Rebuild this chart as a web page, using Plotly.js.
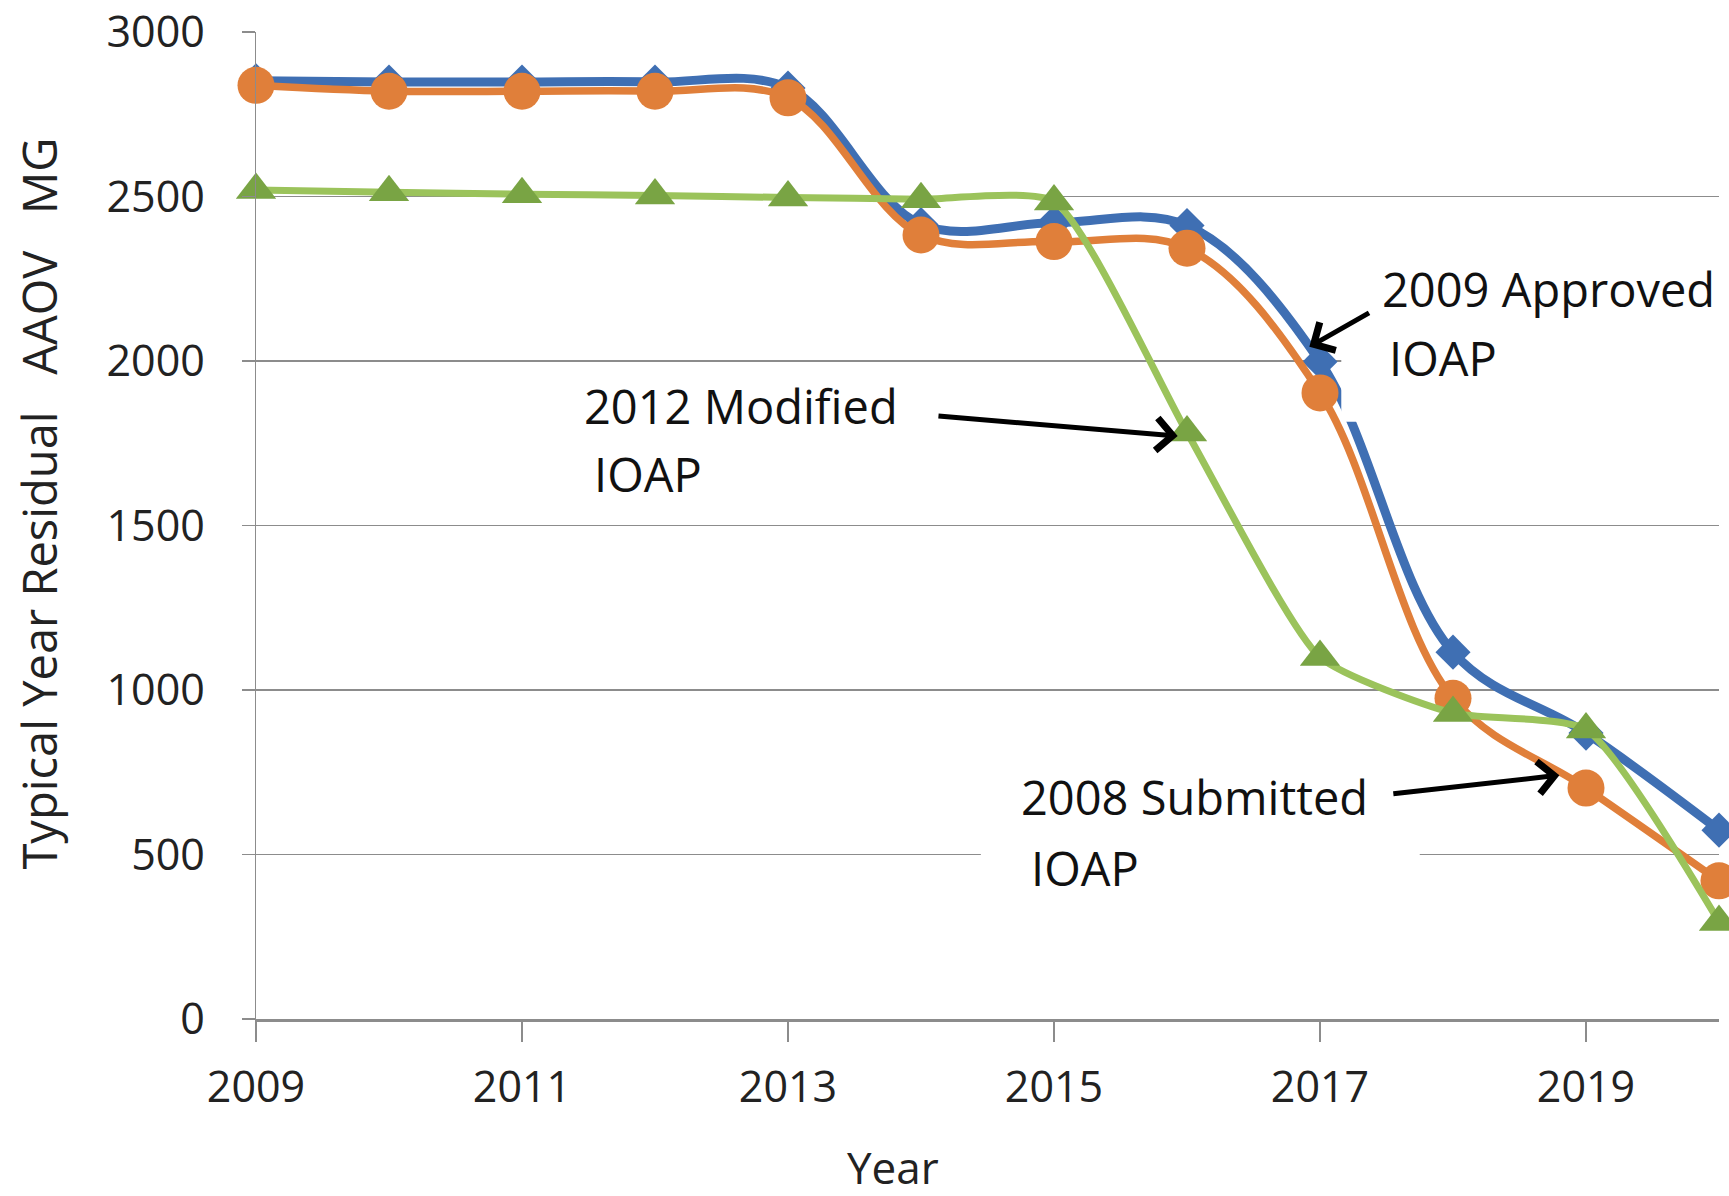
<!DOCTYPE html>
<html>
<head>
<meta charset="utf-8">
<script src="https://cdn.plot.ly/plotly-3.0.1.min.js"></script>
<style>html,body{margin:0;padding:0;background:#fff;}#chart{width:1729px;height:1196px;}</style>
</head>
<body>
<div id="chart"></div>
<script>
const years = [2009, 2010, 2011, 2012, 2013, 2014, 2015, 2016, 2017, 2018, 2019, 2020];
const approved2009 = [2852, 2848, 2848, 2848, 2830, 2415, 2420, 2412, 1998, 1115, 869, 574];
const submitted2008 = [2838, 2820, 2820, 2820, 2800, 2383, 2363, 2343, 1903, 975, 702, 420];
const modified2012 = [2520, 2513, 2507, 2503, 2497, 2492, 2485, 1783, 1100, 930, 880, 295];
const yTicks = [0, 500, 1000, 1500, 2000, 2500, 3000];
const xTicks = [2009, 2011, 2013, 2015, 2017, 2019];

const FONT = '"Open Sans", "DejaVu Sans", sans-serif';

const traces = [
  {x: years, y: approved2009, name: '2009 Approved IOAP', mode: 'lines+markers',
   line: {color: '#3F6FB3', width: 9, shape: 'spline', smoothing: 1},
   marker: {symbol: 'diamond', size: 27, color: '#3F6FB3'}, cliponaxis: false},
  {x: years, y: submitted2008, name: '2008 Submitted IOAP', mode: 'lines+markers',
   line: {color: '#E07F3A', width: 7.5, shape: 'spline', smoothing: 1},
   marker: {symbol: 'circle', size: 37, color: '#E07F3A'}, cliponaxis: false},
  {x: years, y: modified2012, name: '2012 Modified IOAP', mode: 'lines+markers',
   line: {color: '#9BC35B', width: 7, shape: 'spline', smoothing: 0.55},
   marker: {symbol: 'triangle-up', size: 35, color: '#79A444'}, cliponaxis: false}
];

function label(text, x, y) {
  return {text: text, x: x, y: y, xref: 'x', yref: 'y', xanchor: 'left', yanchor: 'middle',
          showarrow: false, font: {family: FONT, size: 47, color: '#111'}};
}
function arrow(tx, ty, hx, hy) {
  return {text: '', x: hx, y: hy, ax: tx, ay: ty, xref: 'x', yref: 'y', axref: 'x', ayref: 'y',
          showarrow: true, arrowhead: 4, arrowsize: 1.25, arrowwidth: 5, arrowcolor: '#000', standoff: 0};
}

const layout = {
  width: 1729, height: 1196,
  margin: {l: 256, r: 10, t: 32, b: 177},
  paper_bgcolor: '#fff', plot_bgcolor: '#fff',
  showlegend: false,
  font: {family: FONT, size: 43, color: '#222'},
  xaxis: {
    range: [2009, 2020], tickvals: xTicks, ticktext: xTicks.map(String),
    showgrid: false, zeroline: false,
    showline: true, linecolor: '#8c8c8c', linewidth: 3,
    ticks: 'outside', ticklen: 20, tickwidth: 1.5, tickcolor: '#8c8c8c',
    ticklabelstandoff: 8,
    tickfont: {family: FONT, size: 43, color: '#222'}
  },
  yaxis: {
    range: [0, 3000], tickvals: yTicks, ticktext: yTicks.map(String),
    showgrid: true, gridcolor: '#8c8c8c', gridwidth: 1.5, zeroline: false,
    showline: true, linecolor: '#8c8c8c', linewidth: 1.5,
    ticks: 'outside', ticklen: 13, tickwidth: 1.5, tickcolor: '#8c8c8c',
    ticklabelstandoff: 28,
    tickfont: {family: FONT, size: 43, color: '#222'}
  },
  shapes: [
    {type: 'rect', xref: 'x', yref: 'y', x0: 2017.16, x1: 2020, y0: 1815, y1: 2292,
     fillcolor: '#fff', line: {width: 0}, layer: 'above'},
    {type: 'rect', xref: 'x', yref: 'y', x0: 2014.45, x1: 2017.75, y0: 347, y1: 787,
     fillcolor: '#fff', line: {width: 0}, layer: 'above'}
  ],
  annotations: [
    {text: 'Year', xref: 'paper', yref: 'paper', x: 0.4354, y: -0.15, xanchor: 'center', yanchor: 'middle',
     showarrow: false, font: {family: FONT, size: 44, color: '#222'}},
    {text: 'Typical Year Residual\u00a0\u00a0 AAOV\u00a0\u00a0 MG', xref: 'paper', yref: 'paper', x: -0.1483, y: 0.5223,
     xanchor: 'center', yanchor: 'middle', textangle: -90,
     showarrow: false, font: {family: FONT, size: 47, color: '#222'}},
    label('2009 Approved', 2017.45, 2219),
    label('IOAP', 2017.50, 2009),
    label('2012 Modified', 2011.45, 1863),
    label('IOAP', 2011.53, 1657),
    label('2008 Submitted', 2014.74, 675),
    label('IOAP', 2014.81, 459),
    arrow(2014.12, 1833, 2015.93, 1772),
    arrow(2017.38, 2149, 2016.92, 2043),
    arrow(2017.54, 684, 2018.80, 741)
  ]
};

Plotly.newPlot('chart', traces, layout, {staticPlot: true, displayModeBar: false});
</script>
</body>
</html>
